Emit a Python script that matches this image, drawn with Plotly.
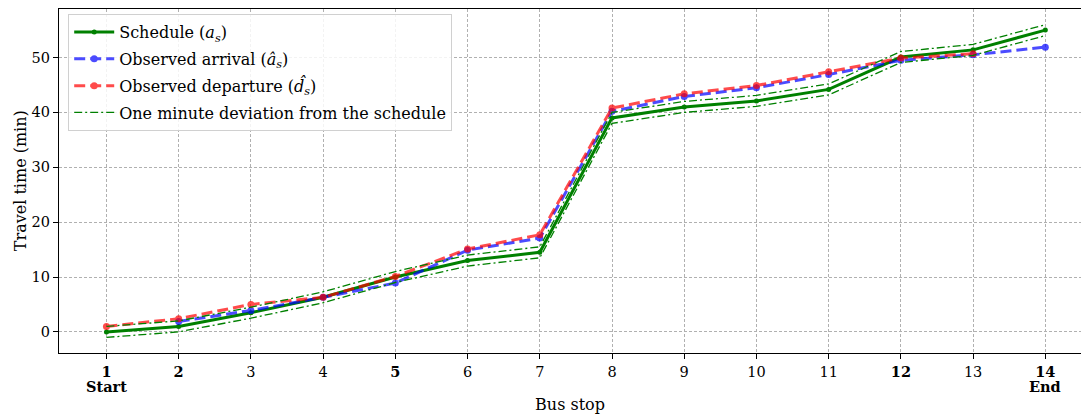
import plotly.graph_objects as go

# Bus stop indices along the route
stops = list(range(1, 15))
tick_labels = ["<b>1</b>", "<b>2</b>", "3", "4", "<b>5</b>", "6", "7",
               "8", "9", "10", "11", "<b>12</b>", "13", "<b>14</b>"]
terminal_labels = {1: "Start", 14: "End"}

# Travel time from the first stop (minutes)
schedule = [0, 1, 3.5, 6.3, 10, 13, 14.5, 39, 41, 42.1, 44.2, 50.1, 51.4, 55]
observed_arrival = [None, 1.9, 3.9, 6.3, 8.9, 14.9, 17.1, 40.2, 42.9, 44.5, 46.9, 49.5, 50.5, 51.9]
observed_departure = [1.0, 2.4, 5.0, 6.3, 10.1, 15.1, 17.7, 40.8, 43.4, 44.9, 47.4, 49.9, 50.7, None]
deviation = 1  # minutes either side of the schedule

upper = [v + deviation for v in schedule]
lower = [v - deviation for v in schedule]

FONT = "DejaVu Serif"
TICK_SIZE = 14.5
LABEL_SIZE = 16

fig = go.Figure()
fig.add_trace(go.Scatter(
    x=stops, y=schedule, mode="lines+markers", legendgroup="a",
    name="Schedule (<i>a</i><sub><i>s</i></sub>)",
    line=dict(color="#008000", width=3),
    marker=dict(color="#008000", size=5),
))
fig.add_trace(go.Scatter(
    x=stops, y=observed_arrival, mode="lines+markers", legendgroup="b",
    name="Observed arrival (<i>\u00e2</i><sub><i>s</i></sub>)",
    line=dict(color="blue", width=3, dash="11px,5px"),
    marker=dict(color="blue", size=7),
    opacity=0.7,
))
fig.add_trace(go.Scatter(
    x=stops, y=observed_departure, mode="lines+markers", legendgroup="c",
    name="Observed departure (<i>d\u0302</i><sub><i>s</i></sub>)",
    line=dict(color="red", width=3, dash="11px,5px"),
    marker=dict(color="red", size=7),
    opacity=0.7,
))
fig.add_trace(go.Scatter(
    x=stops, y=upper, mode="lines", legendgroup="d",
    name="One minute deviation from the schedule",
    line=dict(color="#008000", width=1.3, dash="8px,3px,2px,3px"),
))
fig.add_trace(go.Scatter(
    x=stops, y=lower, mode="lines", legendgroup="d", showlegend=False,
    line=dict(color="#008000", width=1.3, dash="8px,3px,2px,3px"),
))

# "Start" / "End" captions below the first and last stop ticks
for stop, text in terminal_labels.items():
    fig.add_annotation(
        x=stop, xref="x", y=-0.067, yref="paper", yanchor="top",
        text=f"<b>{text}</b>", showarrow=False,
        font=dict(family=FONT, size=TICK_SIZE, color="black"),
    )

# Vertical axis caption
fig.add_annotation(
    x=-0.038, xref="paper", y=0.5, yref="paper",
    xanchor="center", yanchor="middle",
    text="Travel time (min)", textangle=-90, showarrow=False,
    font=dict(family=FONT, size=LABEL_SIZE, color="black"),
)

fig.update_layout(
    width=1081, height=414,
    margin=dict(l=59, r=0, t=9, b=61, autoexpand=False),
    paper_bgcolor="white", plot_bgcolor="white",
    font=dict(family=FONT, size=TICK_SIZE, color="black"),
    showlegend=True,
    legend=dict(
        x=0.009, y=0.985, xanchor="left", yanchor="top",
        bgcolor="rgba(255,255,255,0.85)", bordercolor="#d0d0d0", borderwidth=1,
        font=dict(family=FONT, size=LABEL_SIZE),
        tracegroupgap=3, itemwidth=40,
    ),
    xaxis=dict(
        range=[0.343, 14.494], automargin=False,
        tickmode="array", tickvals=stops, ticktext=tick_labels,
        tickfont=dict(family=FONT, size=TICK_SIZE),
        showline=True, linecolor="black", linewidth=1.2, mirror=True,
        ticks="outside", ticklen=5, tickcolor="black",
        showgrid=True, gridcolor="#b0b0b0", gridwidth=0.8, griddash="3px,2px",
        zeroline=False,
        title=dict(text="Bus stop", font=dict(family=FONT, size=LABEL_SIZE), standoff=26),
    ),
    yaxis=dict(
        range=[-3.85, 58.85], automargin=False,
        tickmode="array", tickvals=[0, 10, 20, 30, 40, 50],
        tickfont=dict(family=FONT, size=TICK_SIZE),
        showline=True, linecolor="black", linewidth=1.2,
        ticks="outside", ticklen=5, tickcolor="black",
        showgrid=True, gridcolor="#b0b0b0", gridwidth=0.8, griddash="3px,2px",
        zeroline=False,
    ),
)

fig.write_html("out.html")
